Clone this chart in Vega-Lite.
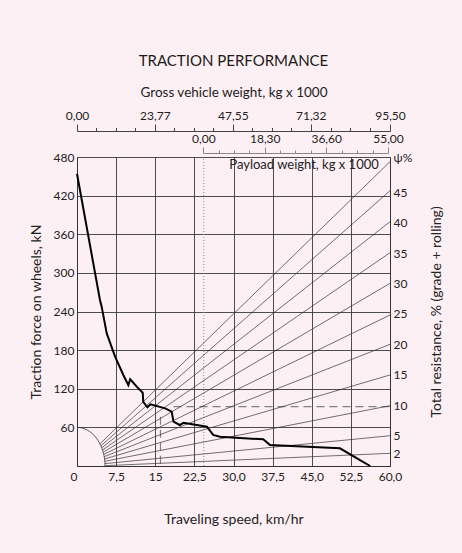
{
  "$schema": "https://vega.github.io/schema/vega-lite/v6.json",
  "width": 313,
  "height": 309,
  "autosize": {"type": "none"},
  "padding": {"left": 77, "top": 157, "right": 72, "bottom": 87},
  "background": "#fdf0f4",
  "title": {"text": "TRACTION PERFORMANCE", "fontSize": 15, "fontWeight": "normal", "font": "Lato", "color": "#1a1a1a", "offset": 16, "anchor": "middle"},
  "config": {
    "view": {"stroke": null},
    "axis": {"labelFont": "Lato", "titleFont": "Lato", "labelFontSize": 12, "titleFontSize": 14, "titleFontWeight": "normal", "labelColor": "#222", "titleColor": "#222", "domainColor": "#333", "tickColor": "#333", "gridColor": "#3a3a3a"}
  },
  "datasets": {
    "traction": [
      {"speed": 0, "force": 454}, {"speed": 4.4, "force": 258}, {"speed": 4.73, "force": 247.5}, {"speed": 5.7, "force": 206},
      {"speed": 7.3, "force": 170}, {"speed": 8.9, "force": 141}, {"speed": 9.84, "force": 125.8}, {"speed": 10.2, "force": 134.7},
      {"speed": 11.75, "force": 120.7}, {"speed": 12.6, "force": 113.9}, {"speed": 12.7, "force": 99.5}, {"speed": 13.5, "force": 91.2},
      {"speed": 14.1, "force": 95.8}, {"speed": 16.9, "force": 89.6}, {"speed": 18.15, "force": 84.4}, {"speed": 18.5, "force": 68.8},
      {"speed": 19.7, "force": 63.7}, {"speed": 20.4, "force": 67}, {"speed": 24.9, "force": 61}, {"speed": 26.1, "force": 48.2},
      {"speed": 27.4, "force": 45.5}, {"speed": 35.7, "force": 41.4}, {"speed": 37.0, "force": 32.6}, {"speed": 50.4, "force": 27.5},
      {"speed": 54.25, "force": 9.3}, {"speed": 56.2, "force": 0}
    ],
    "fan": [
      {"psi": 50, "speed": 4.40, "force": 34.4}, {"psi": 50, "speed": 60, "force": 472.7},
      {"psi": 45, "speed": 4.58, "force": 31.3}, {"psi": 45, "speed": 60, "force": 427.6},
      {"psi": 40, "speed": 4.74, "force": 28.2}, {"psi": 40, "speed": 60, "force": 379.5},
      {"psi": 35, "speed": 4.89, "force": 24.9}, {"psi": 35, "speed": 60, "force": 331.3},
      {"psi": 30, "speed": 5.01, "force": 21.5}, {"psi": 30, "speed": 60, "force": 283.8},
      {"psi": 25, "speed": 5.12, "force": 18.0}, {"psi": 25, "speed": 60, "force": 234.6},
      {"psi": 20, "speed": 5.21, "force": 14.5}, {"psi": 20, "speed": 60, "force": 189},
      {"psi": 15, "speed": 5.28, "force": 10.9}, {"psi": 15, "speed": 60, "force": 141.4},
      {"psi": 10, "speed": 5.33, "force": 7.3}, {"psi": 10, "speed": 60, "force": 93.7},
      {"psi": 5, "speed": 5.36, "force": 3.7}, {"psi": 5, "speed": 60, "force": 47},
      {"psi": 2, "speed": 5.37, "force": 0.5}, {"psi": 2, "speed": 60, "force": 19.7}
    ],
    "arc": [
      {"speed": 0, "force": 60}, {"speed": 0.7, "force": 59.5}, {"speed": 1.39, "force": 58}, {"speed": 2.05, "force": 55.4},
      {"speed": 2.69, "force": 52}, {"speed": 3.27, "force": 47.6}, {"speed": 3.8, "force": 42.4}, {"speed": 4.26, "force": 36.5},
      {"speed": 4.65, "force": 30}, {"speed": 4.96, "force": 23}, {"speed": 5.19, "force": 15.5}, {"speed": 5.33, "force": 7.8},
      {"speed": 5.37, "force": 0}
    ],
    "dotted": [{"speed": 24.3, "force": 0}, {"speed": 24.3, "force": 480}],
    "dashed": [
      {"id": "h", "speed": 18.5, "force": 92.1}, {"id": "h", "speed": 60, "force": 92.1},
      {"id": "v", "speed": 16.0, "force": 76.6}, {"id": "v", "speed": 16.0, "force": 0}
    ],
    "psiTicks": [{"psi": 2}, {"psi": 5}, {"psi": 10}, {"psi": 15}, {"psi": 20}, {"psi": 25}, {"psi": 30}, {"psi": 35}, {"psi": 40}, {"psi": 45}],
    "grossTicks": [{"gross": 0}, {"gross": 23.77}, {"gross": 47.55}, {"gross": 71.32}, {"gross": 95.5}],
    "payloadLabel": [{"payload": 30, "force": 467, "label": "Payload weight, kg x 1000"}]
  },
  "layer": [
    {
      "encoding": {
        "x": {"field": "speed", "type": "quantitative",
          "scale": {"domain": [0, 60], "nice": false, "zero": false},
          "axis": {"values": [0, 7.5, 15, 22.5, 30, 37.5, 45, 52.5, 60], "grid": true, "gridWidth": 0.9, "ticks": false, "labelPadding": 5, "labelFlush": false,
            "labelAlign": {"condition": {"test": "datum.value == 0", "value": "right"}, "value": "center"},
            "labelExpr": "datum.value == 0 ? '0' : datum.value == 15 ? '15' : replace(format(datum.value, '.1f'), '.', ',')",
            "title": "Traveling speed, km/hr", "titlePadding": 30}},
        "y": {"field": "force", "type": "quantitative",
          "scale": {"domain": [0, 480], "nice": false, "zero": false},
          "axis": {"values": [0, 60, 120, 180, 240, 300, 360, 420, 480], "grid": true, "gridWidth": 0.9, "ticks": false, "labelPadding": 3,
            "labelExpr": "datum.value == 0 ? '' : datum.label",
            "title": "Traction force on wheels, kN", "titlePadding": 10}}
      },
      "layer": [
        {"data": {"name": "dotted"}, "mark": {"type": "line", "color": "#8a8a8a", "strokeWidth": 1, "strokeDash": [1, 2]}},
        {"data": {"name": "dashed"}, "mark": {"type": "line", "color": "#808080", "strokeWidth": 1.2, "strokeDash": [8, 5]}, "encoding": {"detail": {"field": "id"}}},
        {"data": {"name": "fan"}, "mark": {"type": "line", "color": "#333", "strokeWidth": 0.7}, "encoding": {"detail": {"field": "psi"}}},
        {"data": {"name": "arc"}, "mark": {"type": "line", "color": "#333", "strokeWidth": 0.8, "interpolate": "monotone"}},
        {"data": {"name": "traction"}, "mark": {"type": "line", "color": "#000", "strokeWidth": 2}}
      ]
    },
    {
      "data": {"name": "psiTicks"},
      "mark": {"type": "point", "opacity": 0},
      "encoding": {
        "y": {"field": "psi", "type": "quantitative",
          "scale": {"domain": [0, 50.8], "nice": false, "zero": true},
          "axis": {"orient": "right", "values": [2, 5, 10, 15, 20, 25, 30, 35, 40, 45, 50.8], "grid": false, "ticks": false, "labelPadding": 3,
            "labelExpr": "datum.value > 50 ? 'ψ%' : datum.label",
            "title": "Total resistance, % (grade + rolling)", "titleAngle": 270, "titlePadding": 32}}
      }
    },
    {
      "data": {"name": "grossTicks"},
      "mark": {"type": "point", "opacity": 0},
      "encoding": {
        "x": {"field": "gross", "type": "quantitative",
          "scale": {"domain": [0, 95.5], "nice": false, "zero": false},
          "axis": {"orient": "top", "offset": 26, "domainColor": "#444", "tickColor": "#444", "grid": false, "labelFlush": false, "labelPadding": 2,
            "values": [0, 5.94, 11.89, 17.83, 23.77, 29.72, 35.66, 41.61, 47.55, 53.49, 59.44, 65.38, 71.32, 77.37, 83.41, 89.46, 95.5],
            "tickSize": {"condition": {"test": "indexof([0, 23.77, 47.55, 71.32, 95.5], datum.value) >= 0", "value": 7}, "value": 3.5},
            "labelExpr": "indexof([0, 23.77, 47.55, 71.32, 95.5], datum.value) >= 0 ? replace(format(datum.value, '.2f'), '.', ',') : ''",
            "title": "Gross vehicle weight, kg x 1000", "titleFontSize": 13.5, "titlePadding": 10}}
      }
    },
    {
      "data": {"name": "payloadLabel"},
      "mark": {"type": "text", "font": "Lato", "fontSize": 13, "color": "#222", "align": "center", "baseline": "middle"},
      "encoding": {
        "x": {"field": "payload", "type": "quantitative",
          "scale": {"domain": [0, 55], "range": [126.3, 311], "nice": false, "zero": false},
          "axis": {"orient": "top", "offset": 4, "domainColor": "#888", "tickColor": "#888", "grid": false, "labelFlush": false, "labelPadding": 2,
            "values": [0, 4.575, 9.15, 13.725, 18.3, 22.875, 27.45, 32.025, 36.6, 41.2, 45.8, 50.4, 55],
            "tickSize": {"condition": {"test": "indexof([0, 18.3, 36.6, 55], datum.value) >= 0", "value": 6}, "value": 3},
            "labelExpr": "indexof([0, 18.3, 36.6, 55], datum.value) >= 0 ? replace(format(datum.value, '.2f'), '.', ',') : ''",
            "title": null}},
        "y": {"field": "force", "type": "quantitative", "scale": {"domain": [0, 480], "nice": false, "zero": false}, "axis": null},
        "text": {"field": "label"}
      }
    }
  ],
  "resolve": {"scale": {"x": "independent", "y": "independent"}}
}
